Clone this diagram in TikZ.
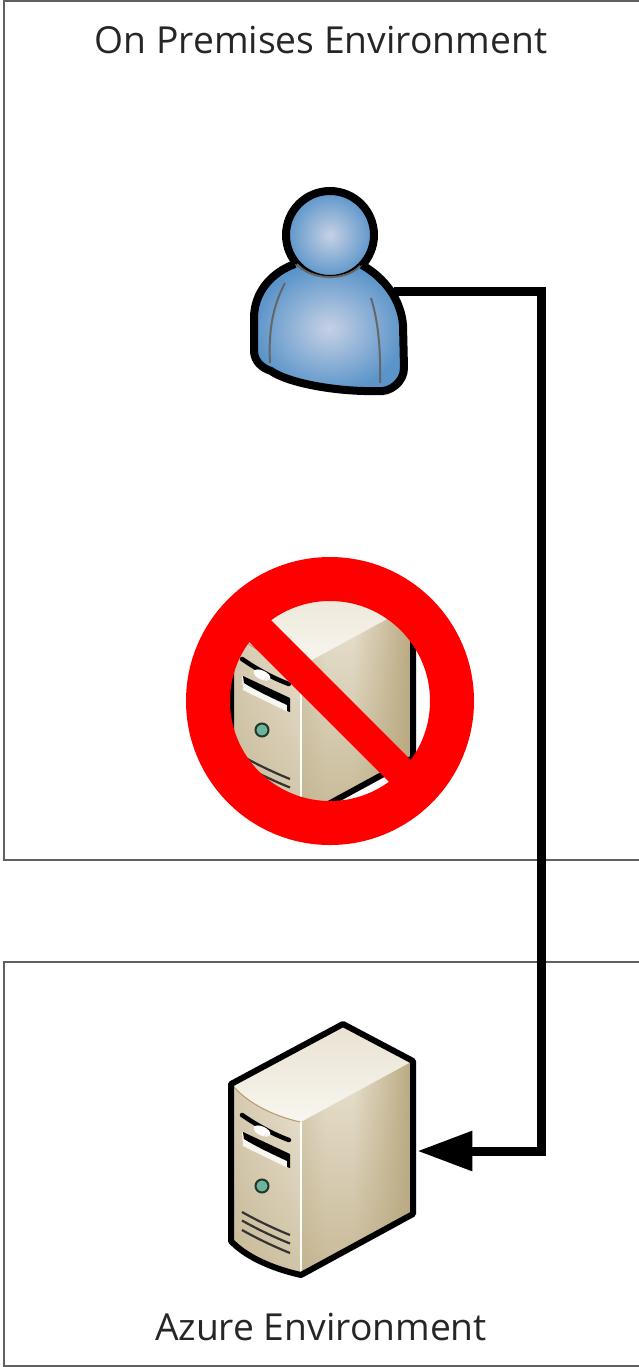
\documentclass[tikz,border=0pt]{standalone}
\usepackage{fontspec}
\setmainfont{Open Sans}
\usetikzlibrary{arrows.meta,fadings}
\definecolor{cInk}{HTML}{000000}
\definecolor{cFrame}{HTML}{606060}
\definecolor{cBan}{HTML}{FF0000}
\definecolor{cSkinIn}{HTML}{C6D1E5}
\definecolor{cSkinOut}{HTML}{5A94C9}
\definecolor{cBeigeHi}{HTML}{F8F6F0}
\definecolor{cBeige}{HTML}{E9E2D1}
\definecolor{cSideL}{HTML}{DAD0B8}
\definecolor{cTan}{HTML}{B9A87F}
\definecolor{cLed}{HTML}{6DB59A}
\pgfdeclarehorizontalshading{towerside}{100bp}{color(0bp)=(cSideL); color(25bp)=(cSideL);
  color(36bp)=(cBeige); color(48bp)=(cBeige); color(75bp)=(cTan); color(100bp)=(cTan)}

% one server tower, pushed up or down by #1
\newcommand{\towerbody}[1]{%
  \begin{scope}[shift={(0,#1)}]
    \shade[top color=cBeige, bottom color=cBeigeHi]
      (343,1024) -- (413,1061) -- (301,1122) .. controls (270,1115) and (245,1100) .. (231,1084) -- cycle;
    \shade[shading=towerside]
      (301,1122) -- (413,1061) -- (413,1214) -- (301,1275) -- cycle;
    \fill[cTan, opacity=.7, path fading=north]
      (301,1122) -- (413,1061) -- (413,1214) -- (301,1275) -- cycle;
    \shade[left color=cBeige!60!cTan, right color=cBeige]
      (231,1084) .. controls (245,1100) and (270,1115) .. (301,1122) -- (301,1275)
      .. controls (270,1268) and (245,1256) .. (231,1241) -- cycle;
    \fill[cTan, opacity=.5, path fading=north]
      (231,1084) .. controls (245,1100) and (270,1115) .. (301,1122) -- (301,1275)
      .. controls (270,1268) and (245,1256) .. (231,1241) -- cycle;
    \draw[cTan!70!brown, line width=.6pt] (233,1086) .. controls (247,1102) and (270,1115) .. (300,1122);
    \draw[white!92!cBeige, line width=.9pt] (301,1122) -- (301,1272);
    % drive bay
    \draw[cInk, line width=4.5*.02cm, line cap=round] (242,1115) .. controls (258,1126) and (275,1135) .. (289,1140);
    \fill[white!90!cBeige, rotate around={-25:(262,1131)}] (262,1131) ellipse (9 and 4.5);
    \fill[white!70!cBeige] (242,1132) -- (288,1155) -- (288,1168) -- (243,1146) -- cycle;
    \fill[cInk] (243,1132) -- (290,1154) -- (290,1168) -- (287,1167) -- (287,1161) .. controls (270,1153) and (255,1146) .. (244,1139) -- cycle;
    \filldraw[draw=cInk!70!cLed, fill=cLed, line width=2*.02cm] (262,1186) circle (6.5);
    % vents
    \foreach \vy in {0,8.5,18}
      \draw[cInk!80, line width=2.2*.02cm] (242,1212+\vy) .. controls (258,1221+\vy) and (275,1229+\vy) .. (290,1235+\vy);
    % outline
    \draw[srvline] (231,1084) -- (343,1024) -- (413,1061) -- (413,1214) -- (301,1275)
      .. controls (270,1268) and (245,1256) .. (231,1241) -- cycle;
  \end{scope}}

\begin{document}
\begin{tikzpicture}[
  x=.02cm, y=-.02cm,
  roomframe/.style={draw=cFrame, line width=2*.02cm},
  roomtitle/.style={font=\fontsize{21.2}{24}\selectfont, text=black!85, inner sep=0pt},
  srvline/.style={draw=cInk, line width=6*.02cm, line join=round},
  anchorbox/.style={inner sep=0pt, minimum width=#1*.02cm, minimum height=1cm},
  link/.style={-{Triangle[length=55*.02cm,width=38*.02cm]}, line width=9*.02cm, draw=cInk},
  figline/.style={draw=cInk, line width=8*.02cm, line join=round},
  seam/.style={draw=black!60, line width=2*.02cm},
  banmark/.style={draw=cBan},
]
\useasboundingbox (0,0) rectangle (639,1367);

% ---------------- rooms ----------------
\draw[roomframe] (4,1) rectangle (650,860);
\draw[roomframe] (4,962) rectangle (650,1366);
\node[roomtitle] (onprem) at (321,40) {On Premises Environment};
\node[roomtitle] (azure) at (321,1327) {Azure Environment};

% ---------------- connector ----------------
\node[anchorbox=130] (user) at (329,291) {};
\node[anchorbox=191] (azuresrv) at (321.5,1151) {};
\coordinate (rail) at (541,700);
\draw[link] (user.east) -| (rail) |- (azuresrv.east);

% ---------------- user figure ----------------
\filldraw[inner color=cSkinIn, outer color=cSkinOut, figline] (330,235) circle (44);
\shade[inner color=cSkinIn, outer color=cSkinOut]
  (295,264) .. controls (272,272) and (254,292) .. (254,318)
  -- (254,352) .. controls (255,362) and (262,368) .. (271,371)
  .. controls (290,384) and (340,392) .. (377,391)
  .. controls (390,393) and (404,382) .. (404,368)
  -- (403,325) .. controls (401,300) and (385,278) .. (362,265)
  .. controls (345,282) and (310,280) .. (295,264) -- cycle;
\draw[figline]
  (295,264) .. controls (272,272) and (254,292) .. (254,318)
  -- (254,352) .. controls (255,362) and (262,368) .. (271,371)
  .. controls (290,384) and (340,392) .. (377,391)
  .. controls (390,393) and (404,382) .. (404,368)
  -- (403,325) .. controls (401,300) and (385,278) .. (362,265);
\draw[seam] (297,264) .. controls (310,280) and (345,282) .. (360,266);
\draw[seam] (285,283) .. controls (275,302) and (268,325) .. (270,363);
\draw[seam] (371,298) .. controls (378,320) and (381,350) .. (380,383);

% ---------------- server that is gone ----------------
\begin{scope}
  \clip (330,701) circle (102);
  \towerbody{-456}
\end{scope}
\draw[banmark, line width=44*.02cm] (330,701) circle (122);
\draw[banmark, line width=31*.02cm] (259,630) -- (401,772);

% ---------------- server in azure ----------------
\towerbody{0}

\end{tikzpicture}
\end{document}
